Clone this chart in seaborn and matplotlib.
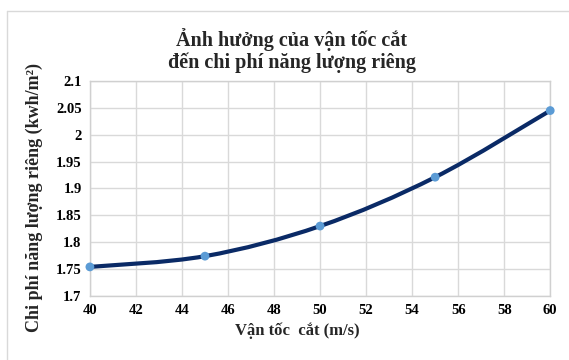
import numpy as np
import matplotlib
matplotlib.use("Agg")
import matplotlib.pyplot as plt
import seaborn as sns
import pandas as pd
from matplotlib.path import Path
from matplotlib.patches import PathPatch
from matplotlib.lines import Line2D
from matplotlib.ticker import FuncFormatter, MultipleLocator

# data
van_toc = [40, 45, 50, 55, 60]
chi_phi = [1.754, 1.774, 1.830, 1.921, 2.045]

sns.set_theme(style="whitegrid")
plt.rcParams['font.family'] = ['Liberation Serif', 'DejaVu Serif']
plt.rcParams['font.weight'] = 'bold'

df = pd.DataFrame({'v': van_toc, 'c': chi_phi})

fig = plt.figure(figsize=(5.69, 3.6), dpi=100)
ax = fig.add_axes([0.158, 0.178, 0.809, 0.597])

# smooth line (Excel style) as cubic bezier through the data points
x = np.array(van_toc, dtype=float)
y = np.array(chi_phi, dtype=float)
verts = [(x[0], y[0])]
codes = [Path.MOVETO]
t = 1 / 6
for i in range(len(x) - 1):
    x0, y0 = (x[i - 1], y[i - 1]) if i > 0 else (x[i], y[i])
    x3, y3 = (x[i + 2], y[i + 2]) if i + 2 < len(x) else (x[i + 1], y[i + 1])
    c1 = (x[i] + (x[i + 1] - x0) * t, y[i] + (y[i + 1] - y0) * t)
    c2 = (x[i + 1] - (x3 - x[i]) * t, y[i + 1] - (y3 - y[i]) * t)
    verts += [c1, c2, (x[i + 1], y[i + 1])]
    codes += [Path.CURVE4] * 3
ax.add_patch(PathPatch(Path(verts, codes), fill=False, edgecolor='#0a2a66',
                       lw=3, capstyle='round', zorder=3))

sns.scatterplot(data=df, x='v', y='c', ax=ax, color='#5b9bd5', s=40,
                edgecolor='none', zorder=4, clip_on=False)

ax.set_xlim(40, 60)
ax.set_ylim(1.7, 2.1)
ax.xaxis.set_major_locator(MultipleLocator(2))
ax.yaxis.set_major_locator(MultipleLocator(0.05))
ax.yaxis.set_major_formatter(FuncFormatter(lambda v, p: '{:g}'.format(round(v, 2))))
ax.grid(True, color='#d9d9d9', lw=1)
for s in ax.spines.values():
    s.set_color('#d0d0d0')
    s.set_linewidth(1)
ax.tick_params(axis='both', labelsize=10.5, length=0, pad=6, colors='black')
for lab in ax.get_xticklabels() + ax.get_yticklabels():
    lab.set_fontweight('bold')

ax.set_xlabel('Vận tốc  cắt (m/s)', fontsize=12, fontweight='bold', labelpad=4,
              x=0.45)
ax.set_ylabel('Chi phí năng lượng riêng (kwh/m²)', fontsize=13,
              fontweight='bold', labelpad=9, y=0.46)
fig.text(0.513, 0.86, 'Ảnh hưởng của vận tốc cắt\nđến chi phí năng lượng riêng',
         ha='center', va='center', fontsize=14.5, fontweight='bold',
         linespacing=1.1)

# chart area border (top and left only visible)
fig.add_artist(Line2D([7 / 569, 1], [1 - 11 / 360, 1 - 11 / 360],
                      color='#d9d9d9', lw=1, transform=fig.transFigure))
fig.add_artist(Line2D([7 / 569, 7 / 569], [0, 1 - 11 / 360],
                      color='#d9d9d9', lw=1, transform=fig.transFigure))

fig.savefig('out.png', dpi=100)
